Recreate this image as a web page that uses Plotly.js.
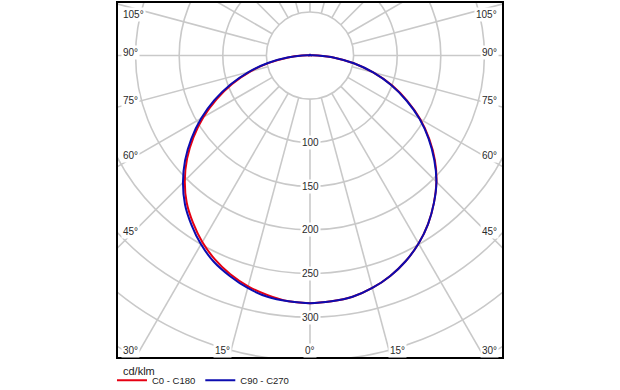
<!DOCTYPE html>
<html><head><meta charset="utf-8">
<script src="https://cdn.plot.ly/plotly-3.0.1.min.js"></script>
<style>html,body{margin:0;padding:0;background:#fff;}#chart{width:620px;height:390px;}</style>
</head><body><div id="chart"></div>
<script>
// Gamma angles (degrees from nadir) and luminous intensities (cd/klm)
const gammaAngles = [0,5,10,15,20,25,30,35,40,45,50,55,60,65,70,75,80,85,90,95,100,120,150,180];
const c0Values   = [284,283,281,276,269,260,249,236,221,205,187,167,146,123,100,75,51,28,9,3,1,1,1,1];
const c180Values = [284,283,279,274,267,258,247,234,220,203,184,163,141,118,95,71,47,25,9,3,1,1,1,1];
const c90Values  = [284,283,281,276,269,260,249,236,221,205,186,166,145,122,99,75,51,28,9,3,1,1,1,1];
const c270Values = [284,283,281,276,269,261,250,237,223,206,187,166,144,121,97,73,49,26,9,3,1,1,1,1];
const seriesNames = ['C0 - C180','C90 - C270'];
const seriesColors = ['#e60012','#0c0cb0'];
const unitLabel = 'cd/klm';
const ringValues = [50,100,150,200,250,300,350,400,450];
const ringLabels = [100,150,200,250,300];
const spokeAngles = [0,15,30,45,60,75,90,105,120,135,150,165,180,195,210,225,240,255,270,285,300,315,330,345];
const sideAngleLabels = [105,90,75,60,45];
const bottomAngleLabels = [-30,-15,0,15,30];

const xRange = [-221.3, 221.3];
const yRange = [-346.9, 61.4];
const M = {l:117, r:117, t:2, b:32, autoexpand:false};
const plotW = 620 - M.l - M.r;
const pxu = plotW / (xRange[1]-xRange[0]); // pixels per unit
const rad = d => d*Math.PI/180;
const FONT = 'Liberation Sans, Arial, sans-serif';
const gridColor = '#c9c9c9';

function curve(rightVals, leftVals){
  const xs=[], ys=[];
  for(let i=gammaAngles.length-1;i>=0;i--){
    const g=rad(gammaAngles[i]), r=leftVals[i];
    xs.push(-r*Math.sin(g)); ys.push(-r*Math.cos(g));
  }
  for(let i=1;i<gammaAngles.length;i++){
    const g=rad(gammaAngles[i]), r=rightVals[i];
    xs.push(r*Math.sin(g)); ys.push(-r*Math.cos(g));
  }
  return {xs, ys};
}
const a = curve(c0Values, c180Values);
const b = curve(c90Values, c270Values);
const traces = [
  {type:'scatter', mode:'lines', x:a.xs, y:a.ys, name:seriesNames[0],
   line:{color:seriesColors[0], width:2, shape:'spline', smoothing:0.6}},
  {type:'scatter', mode:'lines', x:b.xs, y:b.ys, name:seriesNames[1],
   line:{color:seriesColors[1], width:2, shape:'spline', smoothing:0.6}}
];

const shapes = [];
ringValues.forEach(v => shapes.push({type:'circle', xref:'x', yref:'y', x0:-v, x1:v, y0:-v, y1:v,
  line:{color:gridColor, width:1.6}, layer:'below'}));
const rIn = ringValues[0], rOut = 700;
spokeAngles.forEach(d => {
  const s=Math.sin(rad(d)), c=Math.cos(rad(d));
  shapes.push({type:'line', xref:'x', yref:'y', x0:rIn*s, y0:-rIn*c, x1:rOut*s, y1:-rOut*c,
    line:{color:gridColor, width:1.6}, layer:'below'});
});
shapes.push({type:'rect', xref:'paper', yref:'paper', x0:0, x1:1, y0:0, y1:1,
  line:{color:'#000', width:2}, fillcolor:'rgba(0,0,0,0)'});

const annFont = {family:FONT, size:10, color:'#2a2a2a'};
const annotations = [];
ringLabels.forEach(v => annotations.push({xref:'x', yref:'y', x:0, y:-v, text:String(v),
  showarrow:false, bgcolor:'#fff', borderpad:1, font:annFont}));
const xLab = xRange[1] - 14/pxu;
sideAngleLabels.forEach(d => {
  let y = -xLab/Math.tan(rad(d)) + 3/pxu;
  y = Math.min(y, yRange[1] - 12/pxu);
  [-1,1].forEach(sg => annotations.push({xref:'x', yref:'y',
    x: sg<0 ? xRange[0]+4/pxu : xRange[1]-4/pxu, y:y,
    xanchor: sg<0 ? 'left':'right', text: d+'\u00b0', showarrow:false, bgcolor:'#fff', borderpad:1, font:annFont}));
});
const yBot = yRange[0] + 8/pxu;
bottomAngleLabels.forEach(d => {
  const ad = Math.abs(d), sg = Math.sign(d);
  let x = sg*((-yBot)*Math.tan(rad(ad)) + (ad>0 ? 9/pxu : 0));
  const lim = xRange[1] - 13/pxu;
  if (Math.abs(x) > lim) x = sg*lim;
  annotations.push({xref:'x', yref:'y', x:x, y:yBot, text: ad+'\u00b0',
    showarrow:false, bgcolor:'#fff', borderpad:1, font:annFont});
});
annotations.push({xref:'paper', yref:'paper', x:0.01, y:-0.014, xanchor:'left', yanchor:'top',
  text:unitLabel, showarrow:false, font:{family:FONT, size:11, color:'#222'}});

const layout = {
  width:620, height:390, margin:M, paper_bgcolor:'#fff', plot_bgcolor:'#fff',
  xaxis:{range:xRange, visible:false, fixedrange:true},
  yaxis:{range:yRange, visible:false, fixedrange:true},
  shapes:shapes, annotations:annotations, showlegend:true,
  legend:{orientation:'h', x:-0.013, xanchor:'left', y:-0.022, yanchor:'top',
    font:{family:FONT, size:9.5, color:'#222'}, itemwidth:30, bgcolor:'rgba(0,0,0,0)',
    tracegroupgap:0}
};
Plotly.newPlot('chart', traces, layout, {staticPlot:true, displayModeBar:false});
</script></body></html>
